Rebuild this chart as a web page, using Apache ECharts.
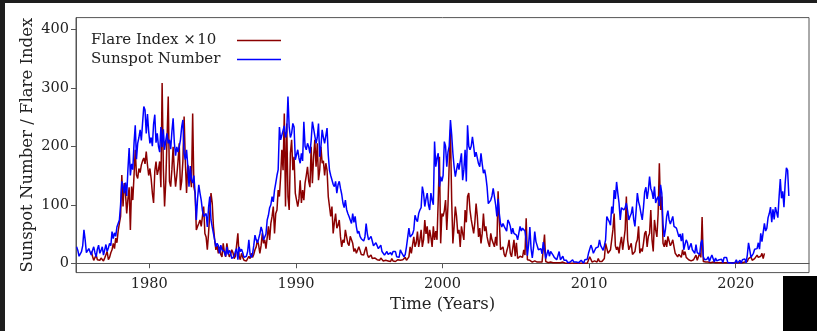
<!DOCTYPE html>
<html>
<head>
<meta charset="utf-8">
<script src="https://cdn.jsdelivr.net/npm/echarts@6/dist/echarts.min.js"></script>
<style>
  html, body { margin: 0; padding: 0; background: #1e1e1e; }
  #paper { position: absolute; left: 5px; top: 3px; width: 812px; height: 328px; background: #fff; }
  #chart { position: absolute; left: 0; top: 0; width: 817px; height: 331px; }
  #corner { position: absolute; left: 783px; top: 276px; width: 34px; height: 55px; background: #000; }
</style>
</head>
<body>
<div id="paper"></div>
<div id="chart"></div>
<div id="corner"></div>
<script>
// monthly sunspot number, starting Jan 1975
const sunspotStart = 1975
const sunspot = [
  28, 22, 12, 10, 20, 30, 57, 40, 18, 15, 25, 28,
  14, 22, 28, 18, 11, 24, 31, 17, 22, 28, 14, 11,
  32, 20, 26, 34, 30, 54, 42, 52, 46, 62, 68, 74,
  100, 140, 132, 120, 138, 115, 160, 197, 150, 170, 160, 205,
  236, 178, 205, 215, 228, 210, 240, 268, 262, 222, 255, 225,
  205, 215, 200, 238, 254, 206, 222, 200, 190, 233, 199, 229,
  194, 210, 222, 205, 211, 195, 225, 248, 206, 184, 199, 190,
  199, 211, 233, 245, 188, 177, 194, 166, 131, 166, 143, 137,
  150, 120, 74, 110, 134, 120, 108, 90, 80, 82, 85, 62,
  95, 114, 74, 62, 51, 40, 28, 34, 30, 17, 31, 23,
  25, 20, 12, 28, 15, 22, 18, 8, 5, 12, 20, 25,
  6, 28, 20, 24, 18, 10, 8, 12, 20, 40, 15, 10,
  15, 30, 48, 40, 35, 42, 50, 62, 55, 40, 45, 50,
  74, 82, 95, 100, 114, 105, 125, 137, 150, 160, 233, 211,
  211, 227, 235, 215, 225, 285, 233, 215, 222, 239, 233, 177,
  177, 194, 180, 171, 188, 175, 242, 200, 194, 205, 199, 188,
  210, 242, 230, 228, 205, 215, 239, 182, 200, 228, 215, 205,
  205, 231, 185, 159, 150, 148, 135, 131, 140, 120, 134, 140,
  128, 118, 103, 95, 108, 92, 85, 80, 74, 68, 85, 70,
  80, 62, 51, 55, 46, 42, 40, 38, 45, 68, 50, 40,
  40, 46, 38, 30, 28, 35, 34, 25, 22, 31, 20, 17,
  14, 16, 20, 15, 14, 18, 14, 20, 17, 20, 11, 12,
  10, 23, 18, 20, 11, 15, 28, 25, 60, 45, 48, 50,
  57, 82, 75, 71, 85, 91, 95, 131, 120, 97, 110, 120,
  100, 91, 120, 108, 100, 208, 165, 180, 188, 131, 148, 140,
  150, 208, 200, 165, 190, 200, 245, 220, 188, 165, 148, 150,
  171, 160, 157, 188, 142, 160, 194, 140, 236, 200, 194, 200,
  216, 200, 182, 190, 188, 170, 165, 188, 170, 154, 160, 148,
  130, 102, 105, 108, 115, 128, 114, 100, 80, 110, 85, 68,
  62, 68, 63, 60, 55, 74, 70, 63, 50, 60, 51, 54,
  48, 40, 42, 63, 55, 60, 63, 55, 40, 13, 32, 62,
  25, 9, 27, 54, 37, 38, 23, 21, 25, 16, 36, 23,
  8, 16, 23, 12, 20, 18, 14, 10, 8, 6, 8, 20,
  6, 4, 12, 5, 4, 5, 1, 1, 2, 4, 6, 2,
  2, 2, 1, 1, 4, 5, 5, 0, 6, 7, 7, 17,
  20, 31, 25, 17, 15, 26, 25, 28, 40, 30, 28, 22,
  30, 40, 80, 75, 71, 65, 97, 85, 125, 110, 139, 120,
  103, 74, 95, 97, 91, 95, 103, 90, 74, 80, 85, 97,
  75, 63, 90, 120, 105, 97, 85, 74, 95, 122, 130, 110,
  125, 148, 128, 122, 110, 131, 103, 110, 114, 98, 134, 120,
  67, 45, 58, 80, 90, 74, 67, 65, 80, 63, 60, 60,
  57, 45, 50, 38, 51, 23, 32, 40, 35, 23, 22, 34,
  23, 26, 17, 32, 18, 19, 15, 34, 40, 11, 6, 8,
  7, 11, 3, 9, 14, 17, 2, 9, 4, 5, 6, 3,
  7, 1, 10, 10, 10, 1, 1, 1, 1, 0, 0.5, 1.5,
  6, 0.2, 1.5, 5, 0.2, 6, 9, 7.5, 0.6, 14, 35, 23,
  10, 8, 17, 24, 21, 25, 35, 24, 51, 37, 34, 68,
  55, 60, 78, 85, 96, 70, 92, 75, 96, 96, 78, 113,
  144, 111, 123, 96, 137, 163, 159, 115
]

// monthly flare index x10, starting Jan 1976
const flareStart = 1976
const flareX10 = [
  20, 12, 5, 8, 14, 6, 3, 5, 9, 6, 4, 9,
  12, 20, 6, 10, 18, 23, 34, 25, 43, 35, 55, 68,
  80, 151, 97, 137, 120, 85, 110, 130, 57, 131, 108, 150,
  194, 151, 145, 162, 155, 168, 175, 180, 170, 191, 168, 150,
  162, 145, 120, 103, 157, 174, 151, 160, 174, 130, 308, 162,
  97, 140, 211, 285, 140, 131, 160, 199, 157, 131, 150, 174,
  205, 125, 140, 175, 251, 174, 120, 168, 157, 150, 130, 256,
  130, 120, 57, 63, 68, 74, 63, 80, 97, 51, 45, 23,
  51, 85, 120, 103, 63, 40, 23, 30, 17, 28, 15, 11,
  34, 18, 11, 34, 20, 11, 15, 23, 18, 8, 12, 11,
  51, 12, 6, 17, 10, 5, 8, 4, 6, 12, 8, 17,
  10, 15, 23, 28, 40, 31, 17, 30, 51, 34, 40, 25,
  23, 63, 40, 68, 80, 97, 51, 85, 91, 125, 114, 148,
  194, 159, 256, 97, 239, 114, 91, 188, 211, 159, 182, 120,
  120, 97, 110, 142, 103, 125, 108, 137, 150, 165, 140, 130,
  199, 137, 182, 211, 165, 205, 142, 159, 199, 171, 175, 150,
  171, 159, 114, 97, 80, 97, 51, 70, 85, 60, 65, 74,
  45, 28, 40, 35, 57, 45, 34, 30, 46, 40, 34, 20,
  25, 17, 20, 28, 22, 15, 17, 14, 22, 28, 15, 10,
  11, 14, 8, 10, 9, 12, 6, 8, 5, 9, 7, 4,
  3, 5, 2, 4, 6, 3, 8, 4, 2, 3, 2, 6,
  3, 5, 8, 6, 4, 10, 5, 8, 11, 28, 17, 20,
  45, 28, 35, 54, 28, 40, 57, 28, 40, 74, 50, 63,
  34, 57, 45, 28, 63, 40, 55, 40, 108, 182, 34, 85,
  80, 90, 108, 57, 100, 171, 228, 108, 34, 63, 97, 80,
  51, 57, 28, 63, 51, 40, 91, 70, 114, 120, 91, 75,
  63, 51, 70, 102, 80, 45, 60, 34, 51, 85, 55, 63,
  45, 35, 28, 51, 40, 34, 28, 45, 30, 123, 74, 23,
  20, 28, 15, 11, 20, 28, 40, 17, 11, 14, 40, 12,
  35, 8, 5, 12, 14, 10, 23, 14, 77, 6, 3, 5,
  3, 2, 2, 4, 3, 2, 3, 2, 2, 2, 3, 49,
  3, 1, 1, 1, 2, 3, 1, 1, 1, 1, 1, 1,
  1, 0, 2, 0, 0, 0, 0, 0, 0, 0, 0, 0,
  0, 0, 0, 0, 0, 0, 0, 0, 0, 0, 0, 1,
  11, 8, 2, 3, 4, 5, 2, 8, 3, 2, 3, 2,
  8, 34, 34, 17, 15, 23, 20, 57, 85, 30, 23, 28,
  17, 34, 45, 23, 25, 57, 114, 40, 23, 20, 34, 15,
  17, 20, 34, 40, 63, 17, 25, 20, 34, 51, 55, 28,
  46, 51, 91, 40, 20, 74, 57, 45, 85, 171, 91, 114,
  34, 28, 40, 28, 46, 43, 30, 34, 40, 28, 17, 20,
  11, 15, 17, 10, 23, 14, 20, 10, 8, 6, 5, 4,
  4, 6, 3, 14, 5, 8, 17, 10, 79, 3, 2, 2,
  2, 2, 1, 1, 2, 2, 1, 1, 1, 1, 1, 1,
  1, 1, 2, 1, 2, 1, 1, 1, 1, 1, 1, 1,
  1, 1, 1, 1, 2, 1, 2, 2, 1, 3, 8, 6,
  11, 5, 4, 8, 6, 14, 10, 8, 12, 17, 8, 17
]

const xTicks = [1980, 1990, 2000, 2010, 2020]
const yTicks = [0, 100, 200, 300, 400]
const flareName = 'Flare Index \u00d7\u200a10'
const sunspotName = 'Sunspot Number'

// month index -> decimal year (mid month)
const toPairs = (start, arr) => arr.map((v, i) => [start + (i + 0.5) / 12, v])

const FONT = 'DejaVu Serif'
const INK = '#222'

const chart = echarts.init(document.getElementById('chart'), null, { renderer: 'canvas' })
chart.setOption({
  animation: false,
  grid: {
    left: 76, top: 17.6, width: 733, height: 255,
    show: true, borderColor: '#555', borderWidth: 1,
    outerBoundsMode: 'none'
  },
  legend: {
    orient: 'vertical',
    left: 91, top: 33,
    padding: 0,
    align: 'right',
    icon: 'rect',
    itemWidth: 44, itemHeight: 1.6, itemGap: 4,
    formatter: name => '{n|' + name + '}',
    textStyle: {
      color: INK, fontFamily: FONT, fontSize: 15,
      rich: { n: { width: 141, align: 'left', fontFamily: FONT, fontSize: 15, color: INK } }
    },
    data: [flareName, sunspotName]
  },
  xAxis: {
    type: 'value', min: 1975, max: 2025,
    name: 'Time (Years)', nameLocation: 'middle', nameGap: 24, nameMoveOverlap: false,
    nameTextStyle: { fontFamily: FONT, fontSize: 16.5, color: INK },
    axisLine: { show: true, lineStyle: { color: '#555', width: 1 } },
    axisTick: { show: true, customValues: xTicks, length: 5, lineStyle: { color: '#555' } },
    axisLabel: {
      customValues: xTicks, margin: 4, fontFamily: FONT, fontSize: 14.5, color: INK,
      formatter: v => String(v)
    },
    splitLine: { show: false }
  },
  yAxis: {
    type: 'value', min: -16, max: 420,
    name: 'Sunspot Number / Flare Index', nameLocation: 'middle', nameGap: 40, nameRotate: 90,
    nameMoveOverlap: false,
    nameTextStyle: { fontFamily: FONT, fontSize: 16.5, color: INK },
    axisLine: { show: true, lineStyle: { color: '#555', width: 1 } },
    axisTick: { show: true, customValues: yTicks, length: 5, lineStyle: { color: '#555' } },
    axisLabel: {
      customValues: yTicks, margin: 7, fontFamily: FONT, fontSize: 14.5, color: INK,
      formatter: v => String(v)
    },
    splitLine: { show: false }
  },
  series: [
    {
      name: flareName, type: 'line',
      data: toPairs(flareStart, flareX10),
      showSymbol: false, symbol: 'none',
      lineStyle: { color: '#8b0000', width: 1.5 },
      itemStyle: { color: '#8b0000' }
    },
    {
      name: sunspotName, type: 'line',
      data: toPairs(sunspotStart, sunspot),
      showSymbol: false, symbol: 'none',
      lineStyle: { color: '#0000ff', width: 1.5 },
      itemStyle: { color: '#0000ff' }
    }
  ]
})
</script>
</body>
</html>
